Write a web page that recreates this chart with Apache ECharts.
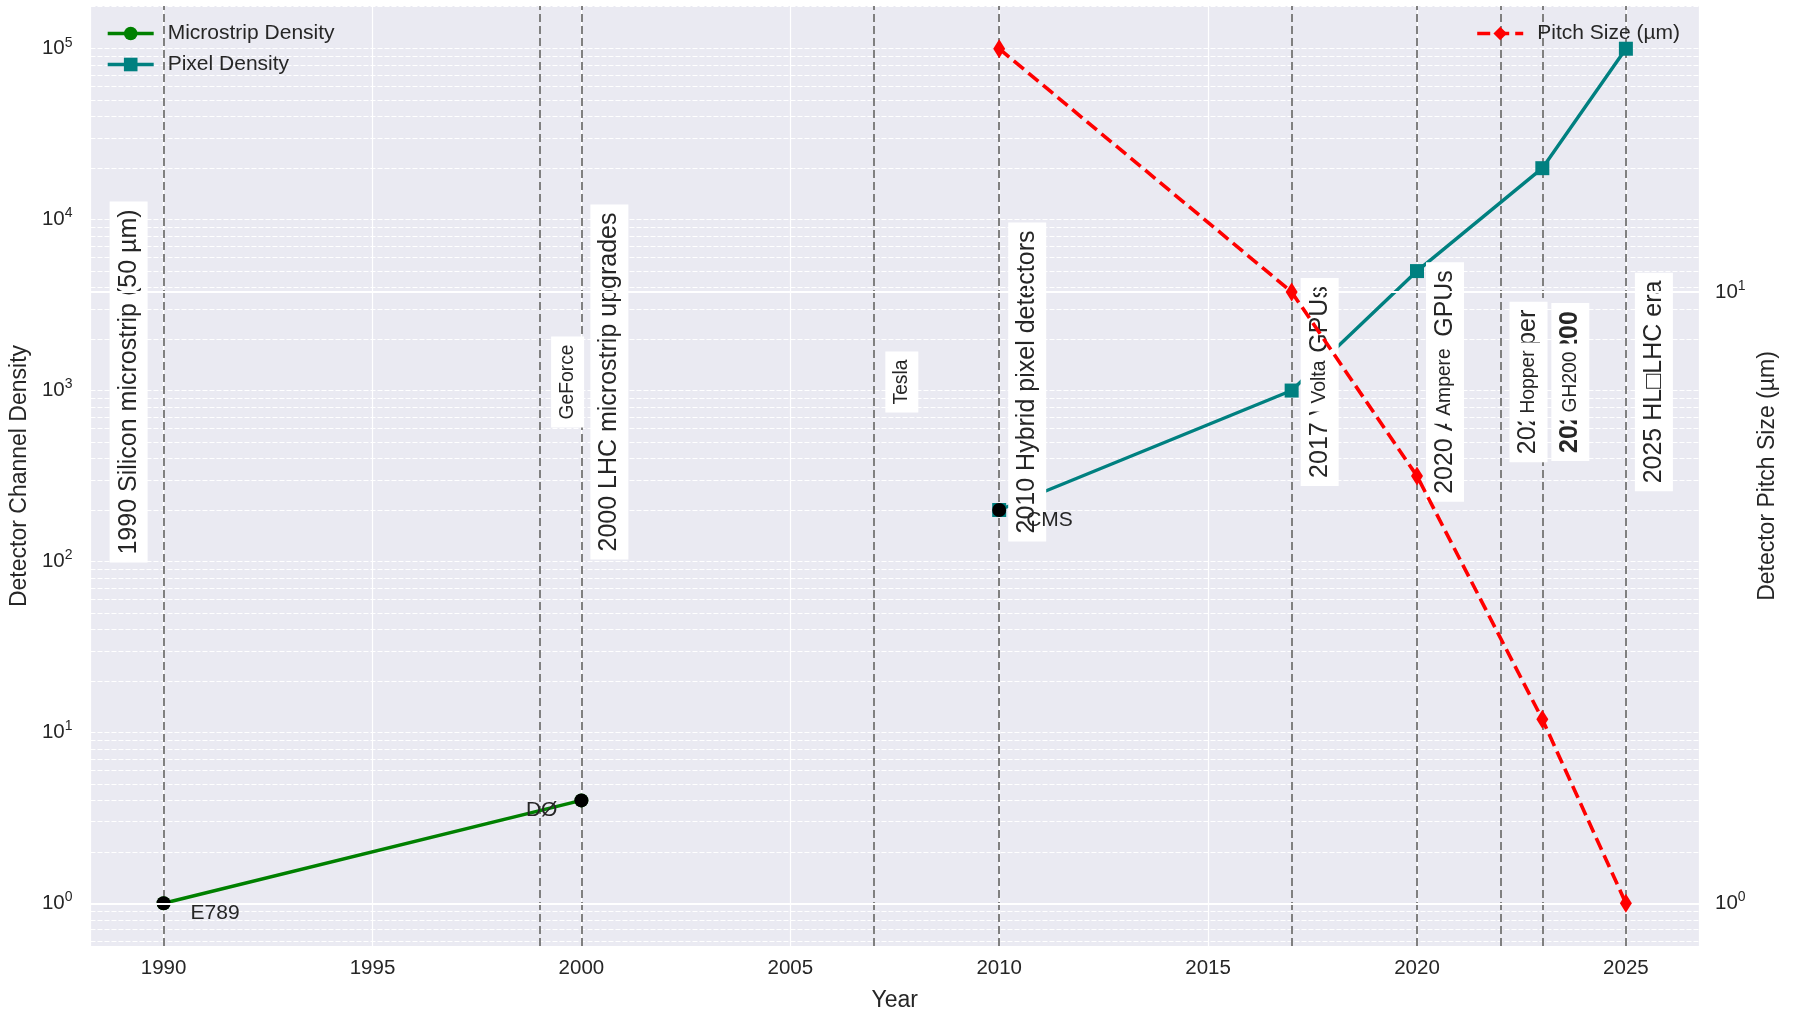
<!DOCTYPE html>
<html><head><meta charset="utf-8">
<script src="https://cdn.jsdelivr.net/npm/echarts@6/dist/echarts.min.js"></script>
<style>html,body{margin:0;padding:0;background:#fff}#c{width:1793px;height:1017px}</style>
</head><body><div id="c"></div>
<script>
// ---------------- data ----------------
const microYears = [1990, 2000];
const microDensity = [1, 4];
const pixelYears = [2010, 2017, 2020, 2023, 2025];
const pixelDensity = [200, 1000, 5000, 20000, 100000];
const pitchYears = [2010, 2017, 2020, 2023, 2025];
const pitchSize = [25, 10, 5, 2, 1];
const expNames = ['E789', 'DØ', 'CMS'];
const expYears = [1990, 2000, 2010];
const expDensity = [1, 4, 200];
const milestoneYears = [1990, 2000, 2010, 2017, 2020, 2022, 2023, 2025];
const milestoneLabels = ['1990 Silicon microstrip (50 µm)', '2000 LHC microstrip upgrades',
  '2010 Hybrid pixel detectors', '2017 Volta GPUs', '2020 Ampere GPUs', '2022 Hopper',
  '2023 GH200', '2025 HL□LHC era'];
const gpuYears = [1999, 2007, 2017, 2020, 2022, 2023];
const gpuLabels = ['GeForce', 'Tesla', 'Volta', 'Ampere', 'Hopper', 'GH200'];

// ---------------- layout helpers ----------------
const FONT = 'Liberation Sans, Arial, sans-serif';
const TXT = '#262626';
const GRID = {left: 90, right: 94, top: 6, bottom: 60};
const W = 1793;
const log10 = Math.log10;
function linRange(arr) { const lo = Math.min(...arr), hi = Math.max(...arr), m = (hi - lo) * 0.05; return [lo - m, hi + m]; }
function logRange(arr) { return linRange(arr.map(log10)); }
const xR = linRange([...microYears, ...pixelYears, ...pitchYears]);
const yL = logRange([...microDensity, ...pixelDensity]);
const yR = logRange(pitchSize);
const pxPerYear = (W - GRID.left - GRID.right) / (xR[1] - xR[0]);
const yMid = Math.pow(10, yL[0] + 0.6 * (yL[1] - yL[0]));
const firstYear = Math.min(...milestoneYears);

const allEvents = Array.from(new Set([...milestoneYears, ...gpuYears])).sort((a, b) => a - b);

const minorVals = [];
for (let e = Math.floor(yL[0]); e <= Math.ceil(yL[1]); e++) {
  for (let k = 2; k <= 9; k++) { const v = k * Math.pow(10, e); if (log10(v) > yL[0] && log10(v) < yL[1]) minorVals.push(v); }
}
const rightMajors = [];
for (let e = Math.ceil(yR[0]); e <= Math.floor(yR[1]); e++) rightMajors.push(Math.pow(10, e));

function powFmt(v) {
  const l = log10(v); const n = Math.round(l);
  if (Math.abs(l - n) > 1e-6) return '';
  return '{b|10}{s|' + n + '}';
}
const richPow = {
  b: {fontSize: 20.5, fontFamily: FONT, color: TXT, lineHeight: 26},
  s: {fontSize: 14, fontFamily: FONT, color: TXT, verticalAlign: 'top', lineHeight: 14}
};

const milestoneData = milestoneYears.map((y, i) => ({
  value: [y + (y === firstYear ? -35 : 28) / pxPerYear, yMid],
  name: milestoneLabels[i],
  label: {fontWeight: y === 2023 ? 'bold' : 'normal'}
}));
const gpuData = gpuYears.map((y, i) => ({value: [y + 28 / pxPerYear, yMid], name: gpuLabels[i]}));
const expData = expYears.map((y, i) => ({
  value: [y, expDensity[i]], name: expNames[i],
  label: expNames[i] === 'DØ' ? {position: 'left', distance: 17, offset: [0, 10]} : {position: 'right', distance: 20, offset: [0, 10]}
}));

const chart = echarts.init(document.getElementById('c'), null, {renderer: 'canvas'});
chart.setOption({
  animation: false,
  backgroundColor: '#ffffff',
  textStyle: {fontFamily: FONT, color: TXT},
  grid: Object.assign({show: true, backgroundColor: '#EAEAF2', borderWidth: 0, containLabel: false}, GRID),
  legend: [
    {data: ['Microstrip Density', 'Pixel Density'], orient: 'vertical', left: 106, top: 23, padding: 0,
     itemWidth: 46, itemHeight: 17, itemGap: 10, lineStyle: {width: 3.4},
     textStyle: {fontSize: 21, fontFamily: FONT, color: TXT, padding: [0, 0, 0, 9]}},
    {data: ['Pitch Size (µm)'], orient: 'vertical', right: 113, top: 23, padding: 0,
     itemWidth: 46, itemHeight: 17, lineStyle: {width: 3.6},
     textStyle: {fontSize: 21, fontFamily: FONT, color: TXT, padding: [0, 0, 0, 9]}}
  ],
  xAxis: {
    type: 'value', min: xR[0], max: xR[1], splitNumber: 8,
    name: 'Year', nameLocation: 'middle', nameGap: 43,
    nameTextStyle: {fontSize: 23, fontFamily: FONT, color: TXT},
    axisLine: {show: false}, axisTick: {show: false},
    axisLabel: {fontSize: 20.5, fontFamily: FONT, color: TXT, margin: 12,
      formatter: v => (Math.abs(v % 5) < 1e-9 ? String(Math.round(v)) : '')},
    splitLine: {show: true, lineStyle: {color: '#ffffff', width: 1.2}}
  },
  yAxis: [
    {type: 'log', logBase: 10, min: Math.pow(10, yL[0]), max: Math.pow(10, yL[1]),
     name: 'Detector Channel Density', nameLocation: 'middle', nameGap: 58,
     nameTextStyle: {fontSize: 23, fontFamily: FONT, color: TXT},
     axisLine: {show: false}, axisTick: {show: false},
     axisLabel: {margin: 18, formatter: powFmt, rich: richPow},
     splitLine: {show: true, lineStyle: {color: '#ffffff', width: 1, type: [5, 2]}}},
    {type: 'log', logBase: 10, min: Math.pow(10, yR[0]), max: Math.pow(10, yR[1]), position: 'right',
     name: 'Detector Pitch Size (µm)', nameLocation: 'middle', nameGap: 53,
     nameTextStyle: {fontSize: 23, fontFamily: FONT, color: TXT},
     axisLine: {show: false}, axisTick: {show: false},
     axisLabel: {margin: 16, formatter: powFmt, rich: richPow},
     splitLine: {show: false}}
  ],
  series: [
    {name: '_minor', type: 'line', data: [], z: 1, silent: true,
     markLine: {z: 1, silent: true, symbol: 'none', label: {show: false},
       lineStyle: {color: '#ffffff', width: 1, type: [5, 2]},
       data: minorVals.map(v => ({yAxis: v}))}},
    {name: '_events', type: 'line', data: [], z: 2, silent: true,
     markLine: {z: 2, silent: true, symbol: 'none', label: {show: false},
       lineStyle: {color: '#808080', width: 2, type: [8, 4]},
       data: allEvents.map(y => ({xAxis: y}))}},
    {name: 'Microstrip Density', type: 'line', z: 3,
     data: microYears.map((y, i) => [y, microDensity[i]]),
     color: '#008000', symbol: 'circle', symbolSize: 14, lineStyle: {width: 3.4, color: '#008000'},
     itemStyle: {color: '#008000'}},
    {name: 'Pixel Density', type: 'line', z: 3,
     data: pixelYears.map((y, i) => [y, pixelDensity[i]]),
     color: '#008080', symbol: 'rect', symbolSize: 14, lineStyle: {width: 3.4, color: '#008080'},
     itemStyle: {color: '#008080'}},
    {name: '_milestones', type: 'scatter', z: 4, silent: true, data: milestoneData,
     symbolSize: 1, itemStyle: {color: 'rgba(0,0,0,0)', opacity: 1},
     label: {show: true, position: 'inside', rotate: 90, formatter: '{b}', fontSize: 25, fontFamily: FONT,
       color: TXT, backgroundColor: '#ffffff', padding: [6, 8], lineHeight: 26}},
    {name: '_gpus', type: 'scatter', z: 5, silent: true, data: gpuData,
     symbolSize: 1, itemStyle: {color: 'rgba(0,0,0,0)', opacity: 1},
     label: {show: true, position: 'inside', rotate: 90, formatter: '{b}', fontSize: 19.3, fontFamily: FONT,
       color: TXT, backgroundColor: '#ffffff', padding: [6, 8], lineHeight: 21}},
    {name: '_experiments', type: 'scatter', z: 6, data: expData,
     symbol: 'circle', symbolSize: 14, itemStyle: {color: '#000000', opacity: 1},
     label: {show: true, formatter: '{b}', fontSize: 21, fontFamily: FONT, color: TXT}},
    {name: '_rightgrid', type: 'line', yAxisIndex: 1, data: [], z: 7, silent: true,
     markLine: {z: 7, silent: true, symbol: 'none', label: {show: false},
       lineStyle: {color: '#ffffff', width: 2, type: 'solid'},
       data: rightMajors.map(v => ({yAxis: v}))}},
    {name: 'Pitch Size (µm)', type: 'line', yAxisIndex: 1, z: 8,
     data: pitchYears.map((y, i) => [y, pitchSize[i]]),
     color: '#ff0000', symbol: 'diamond', symbolSize: [12, 19],
     lineStyle: {width: 3.6, color: '#ff0000', type: [13, 6]}, itemStyle: {color: '#ff0000'}}
  ]
});
</script></body></html>
